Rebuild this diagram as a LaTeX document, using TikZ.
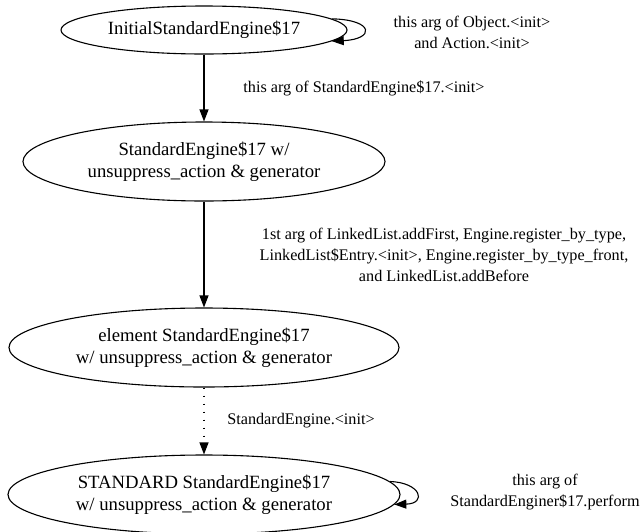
\documentclass[tikz,border=0pt]{standalone}
\usepackage{fontspec}
\setmainfont{Liberation Serif}
\usetikzlibrary{arrows.meta,shapes.geometric}
\tikzset{
	state/.style={draw,ellipse,line width=1.1pt,inner sep=0pt,align=center,font=\fontsize{18.7}{22.5}\selectfont},
	edge/.style={line width=1.1pt,-{Triangle[length=12pt,width=9pt]}},
	elabel/.style={align=center,font=\fontsize{16.2}{21}\selectfont},
}

\begin{document}
\begin{tikzpicture}[x=1pt,y=-1pt]
	\useasboundingbox (0,0) rectangle (642,531);
	\node[state,minimum width=286pt,minimum height=48pt] (initial) at (204,30) {InitialStandardEngine\$17};
	\node[state,minimum width=362pt,minimum height=79pt] (engine) at (204,161.5) {StandardEngine\$17 w/\\unsuppress\_action \& generator};
	\node[state,minimum width=390pt,minimum height=79pt] (element) at (204,347.5) {element StandardEngine\$17\\w/ unsuppress\_action \& generator};
	\node[state,minimum width=392pt,minimum height=79pt] (standard) at (204,494.5) {STANDARD StandardEngine\$17\\w/ unsuppress\_action \& generator};
	\node[elabel] (lobject) at (472,32) {this arg of Object.<init>\\and Action.<init>};
	\node[elabel] (linit) at (364,88) {this arg of StandardEngine\$17.<init>};
	\node[elabel] (llist) at (444,254.5) {1st arg of LinkedList.addFirst, Engine.register\_by\_type,\\LinkedList\$Entry.<init>, Engine.register\_by\_type\_front,\\and LinkedList.addBefore};
	\node[elabel] (lstd) at (301,421) {StandardEngine.<init>};
	\node[elabel] (lperform) at (545,492) {this arg of\\StandardEnginer\$17.perform};
	\draw[edge] (initial.5) .. controls +(43,1) and +(43,-2) .. (initial.-5);
	\draw[edge] (initial) -- (engine);
	\draw[edge] (engine) -- (element);
	\draw[edge,dash pattern=on 1.2pt off 6.8pt] (element) -- (standard);
	\draw[edge] (standard.4) .. controls +(31,1) and +(33,-1) .. (standard.-3);
\end{tikzpicture}
\end{document}
